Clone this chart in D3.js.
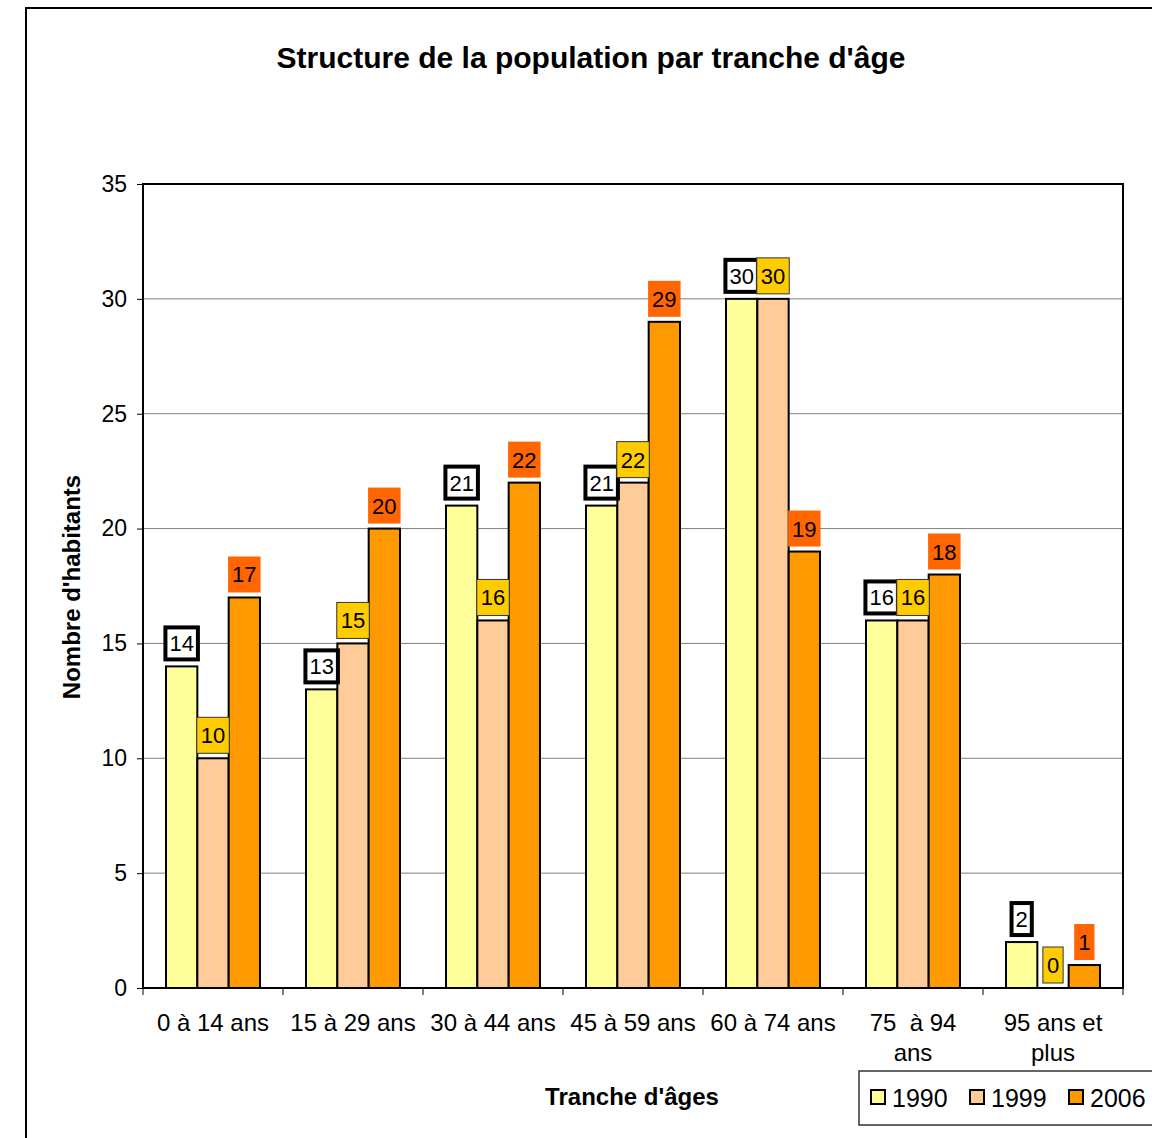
<!DOCTYPE html>
<html><head><meta charset="utf-8">
<script src="https://cdn.jsdelivr.net/npm/d3@7"></script>
<style>body{margin:0;background:#fff}svg{display:block}text{font-family:Arial,"Liberation Sans",sans-serif;white-space:pre}</style>
</head><body>
<script>
const categories = ["0 à 14 ans","15 à 29 ans","30 à 44 ans","45 à 59 ans","60 à 74 ans","75  à 94 ans","95 ans et plus"];
const series = ["1990","1999","2006"];
const v1990 = [14,13,21,21,30,16,2];
const v1999 = [10,15,16,22,30,16,0];
const v2006 = [17,20,22,29,19,18,1];
const yTicks = [0,5,10,15,20,25,30,35];
const values = [v1990, v1999, v2006];
const barColors = ["#FFFF99","#FFCC99","#FF9900"];
const labelFill = ["#FFFFFF","#FFCC00","#FF6600"];

const W = 1152, H = 1138;
const svg = d3.select("body").append("svg").attr("width", W).attr("height", H);
svg.append("rect").attr("x",26).attr("y",8).attr("width",1200).attr("height",1200)
  .attr("fill","#fff").attr("stroke","#000").attr("stroke-width",2);

const L = 143, R = 1123, T = 184, B = 988;
const y = d3.scaleLinear().domain([0,35]).range([B,T]);
const x0 = d3.scaleBand().domain(categories).range([L,R]);
const bw = x0.bandwidth();
const x1 = d3.scaleBand().domain(series).range([bw*0.1643, bw*0.8357]);

// gridlines
svg.append("g").selectAll("line").data(yTicks.filter(d=>d>0 && d<35)).join("line")
  .attr("x1",L).attr("x2",R).attr("y1",d=>y(d)).attr("y2",d=>y(d))
  .attr("stroke","#808080").attr("stroke-width",1);

// title
svg.append("text").attr("x",591).attr("y",68).attr("text-anchor","middle")
  .attr("font-size",30).attr("font-weight","bold").text("Structure de la population par tranche d'âge");

// bars
const groups = svg.append("g").selectAll("g").data(categories).join("g")
  .attr("transform",d=>`translate(${x0(d)},0)`);
series.forEach((s,si)=>{
  groups.append("rect")
    .attr("x",x1(s)).attr("width",x1.bandwidth())
    .attr("y",(d,i)=>y(values[si][i])).attr("height",(d,i)=>B-y(values[si][i]))
    .attr("fill",barColors[si]).attr("stroke","#000").attr("stroke-width",2);
});

// frame of plot area
svg.append("rect").attr("x",L).attr("y",T).attr("width",R-L).attr("height",B-T)
  .attr("fill","none").attr("stroke","#000").attr("stroke-width",2);

// labels
series.forEach((s,si)=>{
  groups.each(function(d,i){
    const g = d3.select(this);
    const val = values[si][i];
    const cx = x1(s) + x1.bandwidth()/2;
    const txt = String(val);
    const r = g.append("rect").attr("fill",labelFill[si]);
    const bottom = y(val) - 5, bh = 36;
    const t = g.append("text").attr("x",cx).attr("y",bottom-bh/2+8).attr("text-anchor","middle")
      .attr("font-size",22).text(txt);
    const tw = t.node().getComputedTextLength();
    const bwid = tw + (si===0 ? 12 : 8);
    r.attr("x",cx-bwid/2).attr("y",bottom-bh).attr("width",bwid).attr("height",bh);
    if (si===0) r.attr("stroke","#000").attr("stroke-width",4)
      .attr("x",cx-bwid/2+2).attr("y",bottom-bh+2).attr("width",bwid-4).attr("height",bh-4);
    else if (si===1) r.attr("stroke","#333").attr("stroke-width",1);
  });
});

// y axis ticks and labels
const yAxis = d3.axisLeft(y).tickValues(yTicks).tickSize(6).tickPadding(10);
const ya = svg.append("g").attr("transform",`translate(${L},0)`).call(yAxis);
ya.select(".domain").remove();
ya.selectAll("line").attr("stroke","#000").attr("stroke-width",1);
ya.selectAll("text").attr("font-size",23).attr("font-family","Arial, 'Liberation Sans', sans-serif").attr("fill","#000");

// x axis ticks at band boundaries
const bounds = categories.map(c=>x0(c)).concat([R]);
svg.append("g").selectAll("line").data(bounds).join("line")
  .attr("x1",d=>d).attr("x2",d=>d).attr("y1",B).attr("y2",B+7)
  .attr("stroke","#000").attr("stroke-width",1);

// x labels with wrapping
function wrapLines(text, maxW){
  const words = text.split(/ (?! )/);
  const lines = []; let cur = "";
  const meas = svg.append("text").attr("font-size",24).attr("visibility","hidden");
  words.forEach(w=>{
    const t = cur ? cur+" "+w : w;
    meas.text(t);
    if (meas.node().getComputedTextLength() > maxW && cur){ lines.push(cur); cur = w; }
    else cur = t;
  });
  lines.push(cur); meas.remove(); return lines;
}
categories.forEach(c=>{
  const lines = wrapLines(c, 130);
  const t = svg.append("text").attr("text-anchor","middle").attr("font-size",24)
    .attr("x",x0(c)+bw/2).attr("y",1031);
  lines.forEach((ln,k)=>t.append("tspan").attr("x",x0(c)+bw/2).attr("y",1031+k*30).text(ln));
});

// axis titles
svg.append("text").attr("transform","translate(80,587) rotate(-90)").attr("text-anchor","middle")
  .attr("font-size",24).attr("font-weight","bold").text("Nombre d'habitants");
svg.append("text").attr("x",632).attr("y",1105).attr("text-anchor","middle")
  .attr("font-size",24).attr("font-weight","bold").text("Tranche d'âges");

// legend
const lg = svg.append("g");
lg.append("rect").attr("x",859).attr("y",1071).attr("width",320).attr("height",54)
  .attr("fill","#fff").attr("stroke","#333").attr("stroke-width",1.5);
const lx = [871, 970, 1069];
series.forEach((s,si)=>{
  lg.append("rect").attr("x",lx[si]).attr("y",1090).attr("width",14).attr("height",14)
    .attr("fill",barColors[si]).attr("stroke","#000").attr("stroke-width",2);
  lg.append("text").attr("x",lx[si]+21).attr("y",1107).attr("font-size",25).text(s);
});
</script>
</body></html>
